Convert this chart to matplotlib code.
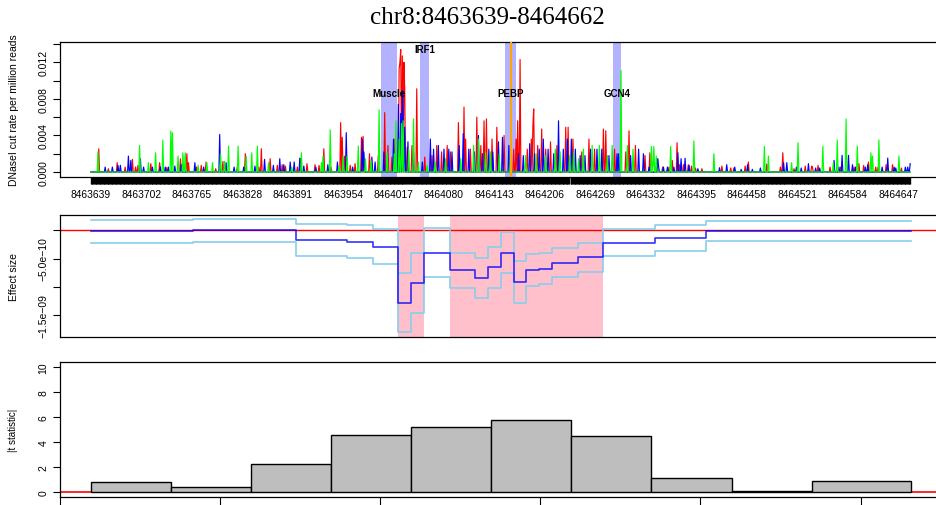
import numpy as np
import matplotlib
matplotlib.use('Agg')
import matplotlib.pyplot as plt

plt.rcParams['font.family'] = ['Liberation Sans', 'DejaVu Sans']

chrom = 'chr8'
start = 8463639
end = 8464662

# DNaseI cut rates: (offset from start, cut rate)
red_peaks = [(10, 0.00254), (22, 0.00036), (33, 0.00102), (43, 0.00054), (52, 0.00138), (56, 0.00054),
             (59, 0.00073), (75, 0.00091), (86, 0.00102), (95, 0.0005), (112, 0.00145), (120, 0.002),
             (122, 0.00102), (132, 0.00054), (138, 0.00073), (144, 0.00109), (156, 0.00036), (165, 0.00116),
             (183, 0.00054), (193, 0.002), (210, 0.00054), (213, 0.00254), (224, 0.00145), (233, 0.00073),
             (239, 0.0008), (243, 0.00065), (258, 0.00054), (262, 0.00145), (270, 0.00091), (280, 0.0008),
             (285, 0.00073), (291, 0.00254), (300, 0.00054), (312, 0.0054), (314, 0.0038), (317, 0.00174),
             (324, 0.00073), (330, 0.00091), (338, 0.0038), (340, 0.0039),
             (348, 0.002), (359, 0.0018), (367, 0.0065), (371, 0.0029), (376, 0.00163), (380, 0.0036),
             (385, 0.0113), (386, 0.012), (387, 0.0134), (389, 0.0127), (391, 0.012), (392, 0.0091),
             (395, 0.0027), (401, 0.0029), (407, 0.0091), (417, 0.00163), (426, 0.0018), (432, 0.0029),
             (438, 0.0022), (445, 0.0029), (449, 0.0022), (459, 0.0054), (466, 0.0071), (468, 0.0036),
             (474, 0.0025), (482, 0.006), (487, 0.0029), (491, 0.0056), (494, 0.0058), (501, 0.0036),
             (507, 0.0049), (516, 0.004),
             (528, 0.0025), (531, 0.0036), (533, 0.0056), (536, 0.0123), (545, 0.0025), (550, 0.0036),
             (552, 0.0051), (553, 0.0069), (558, 0.0029), (563, 0.0047), (568, 0.0025), (574, 0.0033),
             (582, 0.0029), (593, 0.0049), (596, 0.0049), (602, 0.0036), (613, 0.0022), (622, 0.0036),
             (629, 0.0025), (640, 0.0047), (643, 0.0045), (654, 0.0025), (668, 0.0022), (672, 0.0045),
             (680, 0.0029), (692, 0.0018),
             (698, 0.0021), (707, 0.00145), (714, 0.00054), (722, 0.00054), (726, 0.00127), (732, 0.0032),
             (735, 0.0008), (740, 0.0008), (746, 0.0008), (750, 0.00065), (755, 0.00044), (763, 0.00036),
             (788, 0.00065), (799, 0.00044), (803, 0.00044), (817, 0.00065), (821, 0.00109), (844, 0.00087),
             (861, 0.00054), (864, 0.0021),
             (878, 0.00036), (892, 0.00065), (900, 0.00065), (901, 0.00054), (908, 0.00073), (923, 0.00054),
             (936, 0.00054), (953, 0.00054), (959, 0.00091), (965, 0.00073), (971, 0.00109), (980, 0.00054),
             (983, 0.00054), (993, 0.0008), (1001, 0.0008), (1012, 0.00044)]

blue_peaks = [(18, 0.00054), (27, 0.00054), (34, 0.00073), (37, 0.00073), (47, 0.00174), (50, 0.00127),
              (62, 0.00145), (66, 0.00054), (77, 0.00054), (87, 0.00054), (93, 0.00054), (97, 0.00054),
              (105, 0.00065), (113, 0.0008), (130, 0.00102), (141, 0.00054), (161, 0.0041), (169, 0.00102),
              (179, 0.00054), (191, 0.00054), (205, 0.00065), (217, 0.00138), (228, 0.00073), (236, 0.00145),
              (241, 0.0008), (249, 0.00109), (254, 0.00109), (261, 0.00152), (266, 0.00065), (281, 0.00054),
              (296, 0.0008), (308, 0.00109), (319, 0.0043), (327, 0.00054), (339, 0.0036), (341, 0.0022),
              (351, 0.00163), (355, 0.00109), (366, 0.0022), (378, 0.0036), (384, 0.0074), (387, 0.0064),
              (389, 0.0089), (390, 0.0062), (392, 0.0049), (396, 0.0033), (403, 0.0022), (414, 0.00109),
              (424, 0.0036), (428, 0.0025), (434, 0.0029), (441, 0.0025), (447, 0.0025), (451, 0.0022),
              (460, 0.0029), (465, 0.0042), (472, 0.0025), (479, 0.0022), (484, 0.004), (489, 0.002),
              (497, 0.0025), (502, 0.0022), (509, 0.0033), (514, 0.0038),
              (522, 0.0029), (534, 0.002), (540, 0.0018), (548, 0.0031), (554, 0.002), (560, 0.0025),
              (565, 0.0036), (571, 0.0025), (578, 0.002), (584, 0.0056), (590, 0.0025), (595, 0.0036),
              (600, 0.0036), (605, 0.0025), (611, 0.0018), (617, 0.0018), (624, 0.0025), (632, 0.0025),
              (638, 0.0025), (647, 0.0018), (657, 0.002), (659, 0.002), (674, 0.0018), (684, 0.0025),
              (690, 0.002),
              (697, 0.00054), (708, 0.00145), (709, 0.00054), (715, 0.00054), (720, 0.00054), (728, 0.00054),
              (733, 0.0021), (737, 0.00145), (742, 0.0015), (747, 0.00073), (758, 0.00036), (785, 0.00047),
              (794, 0.0008), (804, 0.00054), (812, 0.00029), (820, 0.0008), (826, 0.00029), (836, 0.00044),
              (865, 0.00102), (869, 0.00102),
              (881, 0.00054), (887, 0.00044), (896, 0.00091), (905, 0.00044), (910, 0.00044), (928, 0.00127),
              (934, 0.00054), (938, 0.00182), (946, 0.00182), (951, 0.0008), (955, 0.00054), (967, 0.00054),
              (970, 0.0008), (988, 0.00054), (995, 0.00152), (1003, 0.00054), (1005, 0.00044), (1017, 0.00054),
              (1020, 0.00054), (1023, 0.00091)]

green_peaks = [(9, 0.0022), (61, 0.0029), (72, 0.00102), (81, 0.0021), (90, 0.0035), (100, 0.0045),
               (102, 0.0043), (109, 0.00174), (115, 0.0021), (118, 0.0021), (134, 0.00073), (145, 0.00102),
               (152, 0.00102), (162, 0.002), (167, 0.00116), (172, 0.00283),
               (184, 0.00283), (194, 0.00174), (201, 0.0021), (208, 0.00283), (222, 0.00102), (251, 0.00054),
               (263, 0.0021), (288, 0.00102), (290, 0.00174), (299, 0.0046), (310, 0.00065), (315, 0.00174),
               (320, 0.00174), (334, 0.00283), (343, 0.00145),
               (350, 0.00127), (360, 0.0068), (370, 0.0022), (379, 0.002), (381, 0.0056), (385, 0.0036),
               (388, 0.0053), (390, 0.0056), (397, 0.0025), (403, 0.0058), (409, 0.00109), (420, 0.00073),
               (430, 0.00109), (443, 0.00145), (462, 0.00145), (478, 0.0029), (484, 0.0036), (493, 0.0022),
               (499, 0.0022), (510, 0.002),
               (524, 0.0022), (543, 0.0018), (556, 0.002), (568, 0.0018), (580, 0.0025), (586, 0.0022),
               (598, 0.0018), (603, 0.0022), (609, 0.00145), (615, 0.0025), (626, 0.0029), (635, 0.0029),
               (645, 0.0018), (651, 0.0029), (662, 0.0111), (670, 0.0029), (677, 0.0025),
               (700, 0.0028), (702, 0.0007), (703, 0.0028), (706, 0.00174), (724, 0.0028), (753, 0.0034),
               (778, 0.002), (841, 0.0028), (846, 0.00174),
               (875, 0.00102), (883, 0.0032), (914, 0.00283), (927, 0.00102), (932, 0.0035), (943, 0.0058),
               (957, 0.00283), (974, 0.0021), (976, 0.00174), (984, 0.0035), (1009, 0.00174)]

# motif hits (offsets from start)
motif_names = ['Muscle', 'IRF1', 'PEBP', 'GCN4']
motif_start = [362, 411, 517, 652]
motif_end = [382, 422, 531, 662]
motif_label_y = [0.0086, 0.0135, 0.0086, 0.0086]
snp_offset = 525

# positions without a cut-site tick
missing_sites = [394, 398, 598, 791, 796, 841, 870, 955]

# effect size: step segments (offsets from start)
effect_breaks = [0, 128, 256, 320, 352, 384, 400, 416, 448, 480, 496, 512, 528, 544, 560, 576, 608, 640,
                 704, 768, 1024]
effect_est = [-0.18e-10, 0.0, -1.67e-10, -2.0e-10, -2.9e-10, -12.9e-10, -9.3e-10, -4.08e-10, -7.1e-10,
              -8.46e-10, -6.56e-10, -3.97e-10, -9.2e-10, -7.04e-10, -6.8e-10, -5.8e-10, -4.79e-10,
              -2.25e-10, -1.3e-10, -0.07e-10]
effect_upper = [1.83e-10, 1.95e-10, 1.12e-10, 0.94e-10, 0.18e-10, -7.6e-10, -4.08e-10, 0.35e-10, -4.08e-10,
                -4.9e-10, -3.0e-10, -0.24e-10, -5.5e-10, -4.2e-10, -4.0e-10, -3.2e-10, -2.25e-10,
                0.18e-10, 0.94e-10, 1.7e-10]
effect_lower = [-2.2e-10, -2.0e-10, -4.5e-10, -4.96e-10, -5.97e-10, -18.0e-10, -14.6e-10, -8.33e-10,
                -10.2e-10, -12.0e-10, -10.2e-10, -7.6e-10, -12.9e-10, -9.8e-10, -9.5e-10, -8.3e-10,
                -7.4e-10, -4.5e-10, -3.7e-10, -1.9e-10]
signif_start = [384, 448]
signif_end = [416, 640]

# |t statistic| per window
tstat_edges = [0, 100, 200, 300, 400, 500, 600, 700, 800, 900, 1024]
tstat = [0.8, 0.35, 2.25, 4.58, 5.23, 5.79, 4.5, 1.13, 0.05, 0.88]

W_PX, H_PX = 936, 506
fig = plt.figure(figsize=(W_PX / 100, H_PX / 100), dpi=100)

xlim = (8463600, 8464702)
left = 59.5 / W_PX
width = (xlim[1] - xlim[0]) * 0.801 / W_PX


def box(top, bottom):
    return [left, 1 - bottom / H_PX, width, (bottom - top) / H_PX]


def style_y(ax, ticks, labels):
    ax.set_yticks(ticks)
    ax.set_yticklabels(labels)
    ax.tick_params(axis='y', length=5, width=0.8, pad=3, labelsize=7.5)
    for t in ax.get_yticklabels():
        t.set_rotation(90)
        t.set_va('center')


# ---- cut rates ----
ax1 = fig.add_axes(box(43, 178))
for name, s, e, ly in zip(motif_names, motif_start, motif_end, motif_label_y):
    ax1.axvspan(start + s, start + e, color=(0, 0, 1), alpha=0.3, lw=0, zorder=0)
    ax1.text(start + (s + e) / 2, ly, name, ha='center', va='center', fontsize=7,
             fontweight='bold', zorder=10)

pos = start + np.arange(end - start + 1)
for peaks, col in [(red_peaks, 'red'), (blue_peaks, 'blue'), (green_peaks, '#00ff00')]:
    y = np.zeros(len(pos))
    for off, v in peaks:
        y[off] = v
    ax1.plot(pos, y, color=col, lw=0.85, zorder=2)
ax1.axvline(start + snp_offset, color='orange', lw=1.5, zorder=5)

ax1.set_xlim(xlim)
ax1.set_ylim(-0.000547, 0.01422)
style_y(ax1, np.arange(0, 0.0141, 0.002),
        ['0.000', '', '0.004', '', '0.008', '', '0.012', ''])
label_pos = np.arange(start, end, 63)
ax1.set_xticks(label_pos)
ax1.set_xticklabels([str(p) for p in label_pos])
sites = [p for p in pos if p - start not in missing_sites]
ax1.set_xticks(sites, minor=True)
ax1.tick_params(axis='x', which='both', length=5, width=1.0, pad=4, labelsize=7.4)

# ---- effect size ----
ax2 = fig.add_axes(box(216, 337.7))
for s, e in zip(signif_start, signif_end):
    ax2.axvspan(start + s, start + e, color='pink', lw=0, zorder=0)
ax2.axhline(0, color='red', lw=1, zorder=1)
xb = start + np.array(effect_breaks)
for vals, col, a in [(effect_upper, 'skyblue', 1), (effect_lower, 'skyblue', 1), (effect_est, 'blue', 0.8)]:
    ax2.step(xb, list(vals) + [vals[-1]], where='post', color=col, lw=1.2, alpha=a, zorder=2)
ax2.set_xlim(xlim)
ax2.set_ylim(-1.885e-9, 2.71e-10)
ax2.set_xticks([])
style_y(ax2, [0, -5e-10, -1e-9, -1.5e-9], ['', '\u22125.0e\u221210', '', '\u22121.5e\u221209'])

# ---- |t statistic| ----
ax3 = fig.add_axes(box(363.3, 498.3))
ax3.axhline(0, color='red', lw=1.2, zorder=1)
edges = start + np.array(tstat_edges)
ax3.bar(edges[:-1], tstat, width=np.diff(edges), align='edge', color='#bebebe',
        edgecolor='black', lw=1, zorder=2)
ax3.set_xlim(xlim)
ax3.set_ylim(-0.45, 10.4)
style_y(ax3, range(0, 11, 2), [str(v) for v in range(0, 11, 2)])
ax3.set_xticks(range(8463600, 8464701, 200))
ax3.set_xticklabels([])
ax3.tick_params(axis='x', length=6, width=0.8)

for ax in (ax1, ax2, ax3):
    for sp in ax.spines.values():
        sp.set_linewidth(0.9)

fig.text(14 / W_PX, 1 - 110.5 / H_PX, 'DNaseI cut rate per million reads', rotation=90,
         ha='center', va='center', fontsize=7.5)
fig.text(14 / W_PX, 1 - 277 / H_PX, 'Effect size', rotation=90, ha='center', va='center', fontsize=7.5)
fig.text(13 / W_PX, 1 - 430 / H_PX, '|t statistic|', rotation=90, ha='center', va='center', fontsize=7)
fig.text(487 / W_PX, 1 - 18 / H_PX, '%s:%d-%d' % (chrom, start, end), ha='center', va='center',
         fontsize=18, family='Liberation Serif')

fig.savefig('out.png', dpi=100)
